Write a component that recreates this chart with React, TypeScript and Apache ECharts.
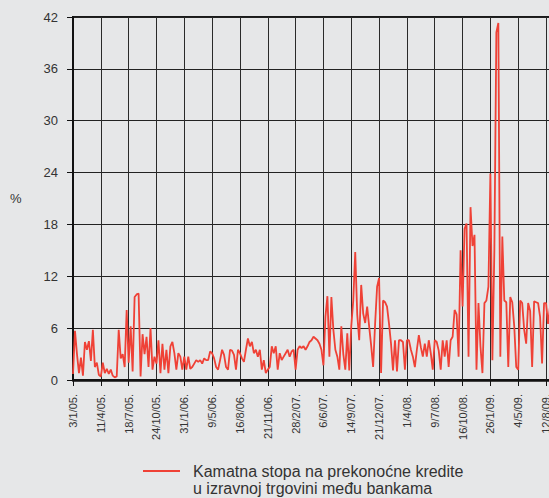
import React, { useEffect, useRef } from "react";
import * as echarts from "echarts";

const tickLabels = [
  "3/1/05.", "11/4/05.", "18/7/05.", "24/10/05.", "31/1/06.", "9/5/06.",
  "16/8/06.", "21/11/06.", "28/2/07.", "6/6/07.", "14/9/07.", "21/12/07.",
  "1/4/08.", "9/7/08.", "16/10/08.", "26/1/09.", "4/5/09.", "12/8/09.",
];

const weeksPerLabel = 14;

const yTicks = [0, 6, 12, 18, 24, 30, 36, 42];

const seriesName = "Kamatna stopa na prekonoćne kredite\nu izravnoj trgovini među bankama";

// weekly overnight rate (%), from 3/1/05
const rates = [
  0.7, 5.7, 3.0, 0.8, 2.6, 0.5, 4.4, 3.5, 4.5, 2.2,
  5.8, 1.5, 2.0, 0.6, 0.4, 2.0, 0.8, 1.3, 0.7, 1.2,
  0.5, 0.3, 0.4, 5.8, 2.5, 3.0, 1.5, 8.1, 2.0, 6.2,
  1.0, 9.6, 9.9, 10.0, 0.4, 5.3, 3.0, 5.0, 1.5, 6.0,
  1.2, 2.7, 1.9, 4.6, 0.8, 4.2, 1.2, 3.5, 0.8, 3.9,
  4.4, 3.1, 1.2, 3.1, 2.7, 1.2, 2.7, 1.2, 2.7, 1.3,
  1.5, 1.9, 2.3, 2.1, 2.3, 1.9, 2.5, 2.3, 2.3, 3.3,
  3.1, 2.5, 1.5, 1.2, 2.3, 3.5, 2.9, 1.5, 1.2, 3.5,
  3.4, 2.9, 1.2, 3.5, 3.1, 2.5, 2.1, 3.5, 4.8, 3.9,
  4.4, 3.1, 3.5, 2.7, 3.5, 1.2, 2.3, 0.8, 1.2, 1.5,
  3.9, 3.1, 3.9, 1.2, 3.1, 2.3, 2.7, 3.1, 3.5, 2.7,
  3.3, 3.5, 1.2, 3.5, 3.9, 3.7, 3.9, 3.5, 3.9, 4.4,
  4.6, 5.0, 4.8, 4.6, 4.2, 3.5, 1.7, 7.3, 9.7, 2.7,
  9.6, 5.8, 3.5, 2.7, 1.2, 6.2, 3.0, 1.2, 5.4, 1.1,
  6.2, 9.2, 14.8, 7.6, 4.6, 11.0, 7.7, 6.6, 8.5, 6.2,
  4.0, 1.5, 6.5, 10.8, 11.8, 0.8, 9.2, 9.0, 8.5, 6.5,
  4.2, 1.1, 4.6, 1.0, 4.6, 4.6, 4.4, 1.2, 4.6, 4.6,
  3.5, 2.7, 1.5, 3.5, 5.2, 3.8, 2.7, 4.2, 2.7, 4.6,
  3.1, 1.2, 4.6, 4.4, 3.4, 1.2, 4.6, 2.7, 4.6, 1.5,
  4.6, 5.0, 8.1, 7.6, 2.7, 15.0, 8.5, 17.5, 18.1, 2.7,
  20.0, 15.5, 16.8, 1.2, 8.9, 3.9, 0.8, 8.9, 9.2, 10.8,
  23.9, 2.3, 15.0, 40.2, 41.3, 2.7, 16.6, 9.2, 9.0, 1.5,
  9.6, 9.0, 6.2, 1.5, 1.2, 9.2, 8.9, 5.8, 4.2, 8.9,
  8.0, 1.5, 9.1, 9.0, 8.9, 7.3, 1.9, 8.9, 8.9, 6.5,
  8.5,
];

export default function App() {
  const ref = useRef<HTMLDivElement>(null);

  useEffect(() => {
    if (!ref.current) return;
    const chart = echarts.init(ref.current, undefined, { renderer: "svg" });
    const font = "'Liberation Sans', Arial, sans-serif";
    const red = "#ef4136";
    chart.setOption({
      animation: false,
      backgroundColor: "#e6e7e8",
      textStyle: { fontFamily: font },
      grid: {
        left: 73,
        top: 17,
        width: 481,
        height: 363,
        outerBoundsMode: "none",
        containLabel: false,
        show: true,
        borderColor: "#1a1a1a",
        borderWidth: 2,
        backgroundColor: "transparent",
      },
      graphic: [
        {
          type: "text",
          left: 10,
          top: 192,
          style: { text: "%", fontSize: 13, fill: "#333", fontFamily: font },
        },
        {
          type: "line",
          shape: { x1: 143, y1: 471, x2: 180, y2: 471 },
          style: { stroke: red, lineWidth: 2 },
        },
        {
          type: "text",
          x: 193,
          y: 463,
          style: {
            text: seriesName,
            fontSize: 16,
            lineHeight: 17,
            fill: "#333",
            fontFamily: font,
            verticalAlign: "top",
          },
        },
      ],
      xAxis: {
        type: "value",
        min: 0,
        max: 242,
        interval: weeksPerLabel,
        axisLine: { show: true, onZero: false, lineStyle: { color: "#111", width: 2.5 } },
        axisTick: { show: true, length: 6, lineStyle: { color: "#111", width: 1 } },
        splitLine: { show: true, lineStyle: { color: "#2a2a2a", width: 1 } },
        axisLabel: {
          rotate: 90,
          margin: 14,
          fontSize: 11,
          color: "#333",
          fontFamily: font,
          formatter: (v: number) =>
            v % weeksPerLabel === 0 ? tickLabels[v / weeksPerLabel] ?? "" : "",
        },
      },
      yAxis: {
        type: "value",
        min: yTicks[0],
        max: yTicks[yTicks.length - 1],
        interval: yTicks[1] - yTicks[0],
        axisLine: { show: true, lineStyle: { color: "#111", width: 2 } },
        axisTick: { show: true, length: 6, lineStyle: { color: "#111", width: 1 } },
        splitLine: { show: true, lineStyle: { color: "#222", width: 1 } },
        axisLabel: { margin: 15, fontSize: 13, color: "#333", fontFamily: font },
      },
      series: [
        {
          name: "Kamatna stopa",
          type: "line",
          data: rates.map((v, i) => [i, v]),
          showSymbol: false,
          symbol: "none",
          lineStyle: { color: red, width: 1.8 },
          itemStyle: { color: red },
        },
      ],
    });
    return () => chart.dispose();
  }, []);

  return (
    <div
      ref={ref}
      style={{ position: "fixed", left: 0, top: 0, width: 549, height: 498 }}
    />
  );
}
